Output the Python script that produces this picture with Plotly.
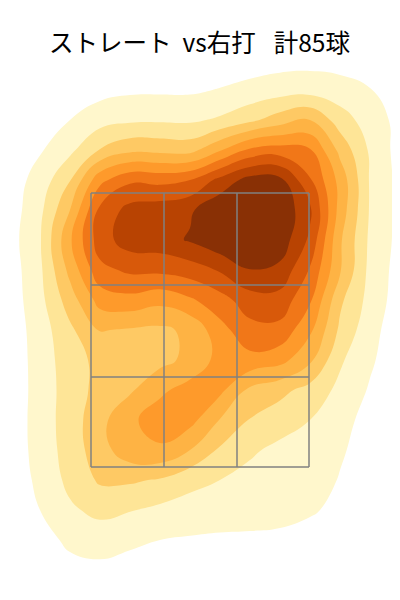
import plotly.graph_objects as go

title_text = "ストレート\u00a0\u00a0vs右打\u00a0\u00a0\u00a0\u200a計85球"

x_grid = [10, 40, 70, 100, 130, 160, 190, 220, 250, 280, 310, 340, 370, 400]
y_grid = [60, 90, 120, 150, 180, 210, 240, 270, 300, 330, 360, 390, 420, 450, 480, 510, 540, 570]
density = [
    [0, 0, 0, 0, .2, .25, .3, .35, .5, .6, .65, .6, .4, 0],
    [0, 0, .3, .65, .83, .85, .85, 1.05, 1.3, 1.55, 1.6, 1.4, 1.05, .3],
    [0, .4, 1.0, 1.6, 1.83, 1.87, 1.83, 2.15, 2.77, 3.5, 4.0, 2.5, 1.5, .7],
    [.1, .9, 1.76, 3.05, 3.75, 3.7, 3.65, 4.9, 6.2, 6.45, 6.1, 3.7, 1.85, .6],
    [.5, 1.4, 2.95, 5.7, 6.8, 6.7, 7.0, 8.3, 9.4, 9.3, 7.1, 4.65, 1.9, .7],
    [.5, 1.75, 4, 7.25, 8.35, 8.55, 8.85, 9.8, 10, 9.8, 8.2, 4.6, 1.9, .7],
    [.6, 1.9, 4.85, 7.55, 8.5, 8.6, 9.1, 9.8, 10, 9.6, 7.8, 4.15, 1.8, .7],
    [.5, 1.8, 4.3, 6.7, 7.2, 7.25, 7.5, 8.1, 8.97, 8.75, 6.9, 4.1, 1.7, .6],
    [.45, 1.7, 3.5, 5.4, 5.67, 5.3, 5.85, 6.6, 7.55, 7.6, 6.15, 3.2, 1.65, .5],
    [.4, 1.5, 2.8, 4.05, 3.9, 3.8, 4.2, 5.65, 6.66, 6.7, 5.2, 2.8, 1.35, .4],
    [.35, 1.45, 2.55, 3.3, 3.35, 3.7, 4.25, 5.35, 5.7, 5.35, 4.2, 2.15, 1.15, .35],
    [.3, 1.45, 2.45, 3.35, 3.85, 4.8, 5.4, 5.25, 3.78, 3.3, 2.63, 1.75, .9, .3],
    [.3, 1.5, 2.45, 3.7, 4.8, 5.5, 5.35, 3.95, 2.95, 2.45, 2, 1.3, .7, .2],
    [.3, 1.45, 2.4, 3.6, 4.6, 4.85, 4, 2.85, 2.15, 1.76, 1.45, 1.1, .65, .15],
    [.2, 1.3, 2.25, 3.15, 3.15, 2.9, 2.3, 2, 1.7, 1.53, 1.41, .95, .5, .1],
    [0, 1, 1.85, 2.26, 2.05, 1.78, 1.6, 1.45, 1.35, 1.3, 1.15, .7, .3, 0],
    [0, .5, 1.27, 1.45, 1.23, 1, .9, .85, .85, .8, .5, .2, 0, 0],
    [0, 0, .6, .75, .55, .35, .3, .3, .3, .25, .1, 0, 0, 0],
]
band_colors = ["#ffffff", "#fff7cc", "#fee597", "#fec964", "#feb344",
               "#fe9a2b", "#f17718", "#d8590a", "#b84302", "#893005"]

zone_x = [91, 164, 237, 309]
zone_y = [193, 285, 377, 467]

fig = go.Figure()
fig.add_trace(go.Contour(
    x=x_grid, y=y_grid, z=density,
    autocontour=False,
    contours=dict(start=1, end=9, size=1, coloring="fill", showlines=False),
    line=dict(width=0, smoothing=1.3),
    colorscale=[[i / (len(band_colors) - 1), c] for i, c in enumerate(band_colors)],
    showscale=False, hoverinfo="skip",
))
zone_line = dict(color="#808080", width=1.5)
for xv in zone_x:
    fig.add_trace(go.Scatter(x=[xv, xv], y=[zone_y[0], zone_y[-1]], mode="lines",
                             line=zone_line, showlegend=False, hoverinfo="skip"))
for yv in zone_y:
    fig.add_trace(go.Scatter(x=[zone_x[0], zone_x[-1]], y=[yv, yv], mode="lines",
                             line=zone_line, showlegend=False, hoverinfo="skip"))

fig.update_layout(
    width=392, height=592,
    margin=dict(l=0, r=0, t=0, b=0),
    paper_bgcolor="white", plot_bgcolor="white",
    showlegend=False,
    xaxis=dict(range=[8, 400], visible=False, fixedrange=True),
    yaxis=dict(range=[600, 8], visible=False, fixedrange=True),
    annotations=[dict(text=title_text, x=199.5, y=41, xref="x", yref="y",
                      showarrow=False, xanchor="center", yanchor="middle",
                      font=dict(family="Noto Sans CJK JP", size=24.5, color="black"))],
)
fig.write_html("out.html", config={"displayModeBar": False})
